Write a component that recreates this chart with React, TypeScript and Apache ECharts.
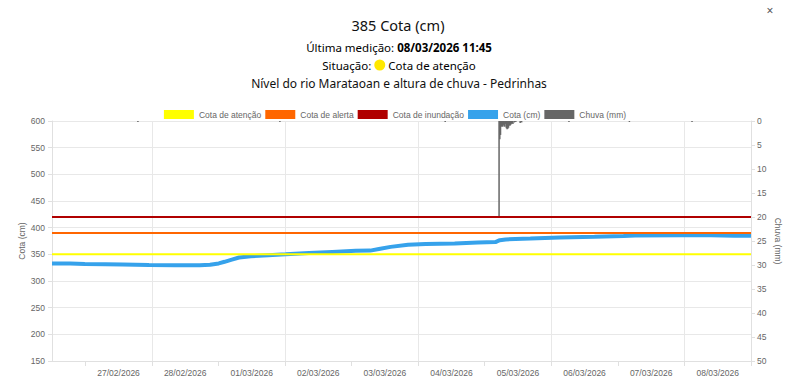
import React, { useEffect, useRef } from 'react';
import * as echarts from 'echarts';

const YEAR = 2026;
const startTime = '26/02 11:45';
const endTime = '08/03 11:45';

const cotaTimes = [
  '26/02 11:45', '26/02 18:00', '26/02 23:00', '27/02 06:00', '27/02 12:00', '27/02 21:00',
  '28/02 06:00', '28/02 14:30', '28/02 18:00', '28/02 21:00', '28/02 23:00', '01/03 01:30',
  '01/03 04:00', '01/03 08:00', '01/03 14:00', '01/03 20:00', '02/03 04:00', '02/03 12:00',
  '02/03 20:00', '03/03 01:00', '03/03 04:00', '03/03 08:00', '03/03 14:00', '03/03 20:00',
  '04/03 06:00', '04/03 14:00', '04/03 20:00', '04/03 21:30', '04/03 23:30', '05/03 08:00',
  '05/03 18:00', '06/03 06:00', '06/03 16:00', '06/03 20:00', '07/03 12:00', '07/03 22:00',
  '08/03 06:00', '08/03 11:45',
];
const cotaValues = [
  333, 333, 332, 331.5, 331, 330,
  329.5, 329.5, 330.5, 333, 336, 340,
  344, 346.5, 348.5, 350, 352.5, 354.5,
  356.5, 357, 360, 364, 368, 369.5,
  370.5, 372, 373, 376.5, 378, 379.5,
  381.5, 383, 384.5, 385.5, 386, 386,
  385, 385,
];

const rainTimes = [
  '27/02 17:15', '01/03 18:00', '04/03 02:45',
  '04/03 21:15', '04/03 21:30', '04/03 21:45', '04/03 22:00', '04/03 22:15', '04/03 22:30',
  '04/03 22:45', '04/03 23:00', '04/03 23:15', '04/03 23:30', '04/03 23:45', '05/03 00:00',
  '05/03 00:15', '05/03 00:30', '05/03 00:45', '05/03 01:00', '05/03 01:15', '05/03 01:30',
  '05/03 01:45', '05/03 02:00', '05/03 02:30', '05/03 03:00', '05/03 04:30', '05/03 05:00',
  '05/03 21:15', '06/03 18:00', '07/03 15:30',
];
const rainValues = [
  0.2, 0.2, 0.2,
  19.8, 3.8, 2.9, 1.2, 1.0, 1.2,
  0.8, 1.1, 1.2, 0.6, 1.5, 1.7,
  1.6, 1.4, 0.9, 1.0, 0.8, 0.6,
  0.4, 0.6, 0.3, 0.2, 0.4, 0.3,
  0.2, 0.2, 0.2,
];

const thresholdNames = ['Cota de atenção', 'Cota de alerta', 'Cota de inundação'];
const thresholdValues = [350, 390, 420];
const thresholdColors = ['#ffff00', '#ff6600', '#b00000'];

const dayLabels = [
  '27/02/2026', '28/02/2026', '01/03/2026', '02/03/2026', '03/03/2026',
  '04/03/2026', '05/03/2026', '06/03/2026', '07/03/2026', '08/03/2026',
];

const cotaName = 'Cota (cm)';
const rainName = 'Chuva (mm)';

const titleText = '385 Cota (cm)';
const lastLabel = 'Última medição: ';
const lastValue = '08/03/2026 11:45';
const statusLabel = 'Situação: ';
const statusValue = ' Cota de atenção';
const subtitleText = 'Nível do rio Marataoan e altura de chuva - Pedrinhas';

function toMs(s: string): number {
  const [d, t] = s.split(' ');
  const [dd, mm] = d.split('/').map(Number);
  const [hh, mi] = t.split(':').map(Number);
  return Date.UTC(YEAR, mm - 1, dd, hh, mi);
}

const AXIS_FONT = "'Liberation Sans', Arial, sans-serif";
const TITLE_FONT = "'Noto Sans', 'Open Sans', sans-serif";

export default function App() {
  const ref = useRef<HTMLDivElement>(null);

  useEffect(() => {
    if (!ref.current) return;
    const chart = echarts.init(ref.current, undefined, { renderer: 'svg' });
    const startMs = toMs(startTime);
    const endMs = toMs(endTime);

    const oddTicks: number[] = [];
    for (let i = 1; i <= 21; i += 2) oddTicks.push(i);

    const series: any[] = thresholdNames.map((name, i) => ({
      name,
      type: 'line',
      xAxisIndex: 0,
      yAxisIndex: 0,
      symbol: 'none',
      silent: true,
      data: [[startMs, thresholdValues[i]], [endMs, thresholdValues[i]]],
      lineStyle: { color: thresholdColors[i], width: 2 },
      itemStyle: { color: thresholdColors[i] },
      z: 3,
    }));
    series.push({
      name: cotaName,
      type: 'line',
      xAxisIndex: 0,
      yAxisIndex: 0,
      symbol: 'none',
      data: cotaTimes.map((t, i) => [toMs(t), cotaValues[i]]),
      lineStyle: { color: '#36a2eb', width: 4 },
      itemStyle: { color: '#36a2eb' },
      z: 2,
    });
    series.push({
      name: rainName,
      type: 'bar',
      xAxisIndex: 0,
      yAxisIndex: 1,
      barWidth: 1.5,
      data: rainTimes.map((t, i) => [toMs(t), rainValues[i]]),
      itemStyle: { color: '#666666' },
      z: 4,
    });

    const option: any = {
      animation: false,
      grid: { left: 52, right: 38, top: 121, bottom: 28, containLabel: false },
      legend: {
        data: [...thresholdNames, cotaName, rainName],
        top: 105,
        left: 'center',
        icon: 'rect',
        itemWidth: 30,
        itemHeight: 9,
        itemGap: 4,
        textStyle: { fontSize: 8.5, color: '#666', fontFamily: AXIS_FONT },
      },
      xAxis: [
        { type: 'value', min: startMs, max: endMs, show: false },
        {
          type: 'value',
          min: 0,
          max: 21,
          interval: 1,
          position: 'bottom',
          axisLine: { show: true, lineStyle: { color: '#e0e0e0' } },
          axisTick: { show: true, length: 5, customValues: oddTicks, lineStyle: { color: '#e0e0e0' } },
          splitLine: { show: true, lineStyle: { color: ['rgba(0,0,0,0)', '#e8e8e8'], width: 1 } },
          axisLabel: {
            fontSize: 8.5,
            color: '#666',
            fontFamily: AXIS_FONT,
            margin: 7,
            showMinLabel: true,
            showMaxLabel: true,
            formatter: (v: number) => (v % 2 === 0 && v > 0 && v <= 20 ? dayLabels[v / 2 - 1] : ''),
          },
        },
      ],
      yAxis: [
        {
          type: 'value',
          min: 150,
          max: 600,
          interval: 50,
          position: 'left',
          name: cotaName,
          nameLocation: 'middle',
          nameGap: 26,
          nameMoveOverlap: false,
          nameRotate: 90,
          nameTextStyle: { fontSize: 8.5, color: '#666', fontFamily: AXIS_FONT },
          axisLine: { show: true, lineStyle: { color: '#e0e0e0' } },
          axisTick: { show: true, length: 4, lineStyle: { color: '#e0e0e0' } },
          splitLine: { show: true, lineStyle: { color: '#e8e8e8' } },
          axisLabel: { fontSize: 8.5, color: '#666', fontFamily: AXIS_FONT, margin: 7 },
        },
        {
          type: 'value',
          min: 0,
          max: 50,
          interval: 5,
          inverse: true,
          position: 'right',
          name: rainName,
          nameLocation: 'middle',
          nameGap: 22,
          nameMoveOverlap: false,
          nameRotate: -90,
          nameTextStyle: { fontSize: 8.5, color: '#666', fontFamily: AXIS_FONT },
          axisLine: { show: true, lineStyle: { color: '#e0e0e0' } },
          axisTick: { show: true, length: 4, lineStyle: { color: '#e0e0e0' } },
          splitLine: { show: false },
          axisLabel: { fontSize: 8.5, color: '#666', fontFamily: AXIS_FONT, margin: 6 },
        },
      ],
      graphic: [
        {
          type: 'text',
          x: 398,
          y: 25,
          style: {
            text: titleText,
            fontSize: 14.5,
            fontFamily: TITLE_FONT,
            fill: '#111',
            align: 'center',
            verticalAlign: 'middle',
          },
        },
        {
          type: 'text',
          x: 399,
          y: 47,
          style: {
            text: '{n|' + lastLabel + '}{b|' + lastValue + '}',
            align: 'center',
            verticalAlign: 'middle',
            rich: {
              n: { fontSize: 11.5, fontFamily: TITLE_FONT, color: '#111' },
              b: { fontSize: 11.5, fontFamily: TITLE_FONT, color: '#111', fontWeight: 'bold' },
            },
          },
        },
        {
          type: 'text',
          x: 399,
          y: 65,
          style: {
            text: '{n|' + statusLabel + '}{dot|}{n|' + statusValue + '}',
            align: 'center',
            verticalAlign: 'middle',
            rich: {
              n: { fontSize: 11.5, fontFamily: TITLE_FONT, color: '#111' },
              dot: { width: 11, height: 11, borderRadius: 5.5, backgroundColor: '#ffe800' },
            },
          },
        },
        {
          type: 'text',
          x: 399,
          y: 83,
          style: {
            text: subtitleText,
            fontSize: 12,
            fontFamily: TITLE_FONT,
            fill: '#111',
            align: 'center',
            verticalAlign: 'middle',
          },
        },
        {
          type: 'text',
          x: 770,
          y: 10,
          style: {
            text: '×',
            fontSize: 12,
            fontFamily: TITLE_FONT,
            fill: '#555',
            align: 'center',
            verticalAlign: 'middle',
          },
        },
      ],
      series,
    };

    chart.setOption(option);
    return () => chart.dispose();
  }, []);

  return (
    <div
      ref={ref}
      style={{ position: 'fixed', left: 0, top: 0, width: 790, height: 389, background: '#fff' }}
    />
  );
}
